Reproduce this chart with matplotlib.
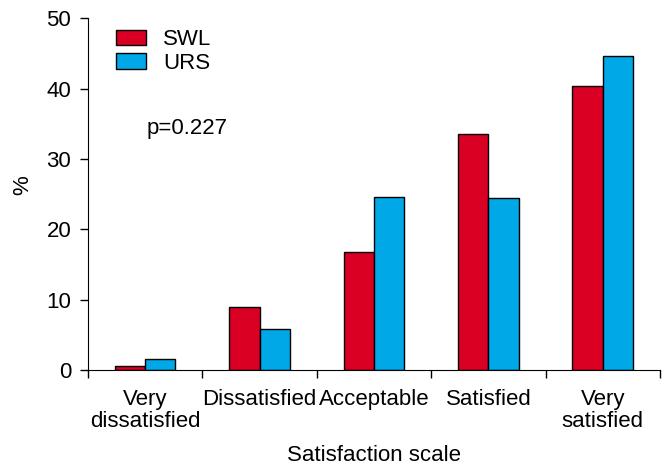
import numpy as np
import matplotlib.pyplot as plt
from matplotlib.patches import Patch

categories = ["Very\ndissatisfied", "Dissatisfied", "Acceptable", "Satisfied", "Very\nsatisfied"]
swl = [0.5, 8.9, 16.8, 33.6, 40.3]
urs = [1.6, 5.8, 24.6, 24.5, 44.6]
series_names = ["SWL", "URS"]
series_colors = ["#D90024", "#00A8E8"]

plt.rcParams["font.family"] = ["Liberation Sans", "DejaVu Sans"]
plt.rcParams["font.size"] = 16

fig = plt.figure(figsize=(6.66, 4.66), dpi=100)
ax = fig.add_axes([0.132, 0.206, 0.859, 0.755])

x = np.arange(len(categories)) + 0.5
w = 0.265
ax.bar(x - w / 2, swl, w, color=series_colors[0], edgecolor="black", linewidth=1)
ax.bar(x + w / 2, urs, w, color=series_colors[1], edgecolor="black", linewidth=1)

ax.set_xlim(0, len(categories))
ax.set_ylim(0, 50)
ax.set_yticks(range(0, 51, 10))
# major ticks mark category boundaries, labels sit on minor ticks
ax.set_xticks(range(0, len(categories) + 1))
ax.set_xticklabels([])
ax.set_xticks(x, minor=True)
ax.set_xticklabels(categories, minor=True, linespacing=1.05)
ax.tick_params(axis="x", which="minor", length=0, pad=14)
ax.tick_params(axis="both", which="major", length=6, width=1, direction="out")
ax.tick_params(axis="y", pad=6)

for s in ["top", "right"]:
    ax.spines[s].set_visible(False)

ax.set_xlabel("Satisfaction scale")
ax.xaxis.set_label_coords(0.5, -0.212)
ax.set_ylabel("%")
ax.yaxis.set_label_coords(-0.096, 0.526)

handles = [Patch(facecolor=c, edgecolor="black", linewidth=1) for c in series_colors]
ax.legend(handles, series_names, loc="upper left", bbox_to_anchor=(0.03, 1.0),
          frameon=False, handlelength=1.35, handleheight=0.7, handletextpad=0.75,
          labelspacing=0.12, borderaxespad=0.1)

ax.text(0.51, 34.3, "p=0.227", ha="left", va="center")

fig.savefig("out.png", dpi=100)
